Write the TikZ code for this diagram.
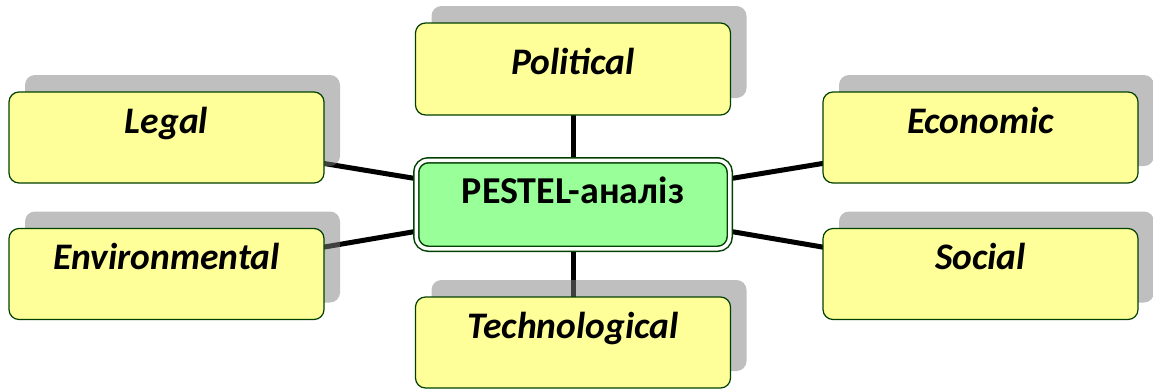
\documentclass[tikz,border=0pt]{standalone}
\usepackage{fontspec}
\setmainfont{Carlito}
\usetikzlibrary{positioning,shadows,backgrounds}
\definecolor{boxyellow}{RGB}{255,255,153}
\definecolor{boxgreen}{RGB}{153,255,153}
\definecolor{edgegreen}{RGB}{0,64,0}

\begin{document}
\begin{tikzpicture}[x=1pt,y=-1pt,
          factor/.style={draw=edgegreen,line width=1.2pt,rounded corners=10pt,fill=boxyellow,
                         minimum width=315pt,inner sep=0pt,outer sep=0pt,
                         text height=41pt,text depth=50pt,
                         font=\fontsize{37.5}{44}\selectfont\bfseries\itshape,
                         drop shadow={shadow xshift=16pt,shadow yshift=17pt}},
          hub/.style={draw=edgegreen,line width=1.5pt,double=white,double distance=3.5pt,
                      rounded corners=12pt,fill=boxgreen,minimum width=313.5pt,
                      inner sep=0pt,outer sep=0pt,text height=42.75pt,text depth=45.75pt,
                      font=\fontsize{38}{45}\selectfont\bfseries},
          link/.style={line width=5pt,black}]
        \useasboundingbox (0,0) rectangle (1153,389);
        \node[hub] (pest) at (573,204.5) {PESTEL-аналіз};
        \node[factor,text height=51pt,text depth=41pt] (pol) [above=45.25pt of pest] {Political};
        \node[factor] (tech) [below=48.25pt of pest] {Technological};
        \node[factor] (leg) [above left=21.5pt and 92.25pt of pest.west] {Legal};
        \node[factor] (env) [below left=24pt and 92.25pt of pest.west] {Environmental};
        \node[factor] (eco) [above right=21.5pt and 93.25pt of pest.east] {Economic};
        \node[factor] (soc) [below right=24pt and 93.25pt of pest.east] {Social};
        \begin{scope}[on background layer]
          \foreach \f in {pol,tech,leg,env,eco,soc}
            \draw[link] (pest.center) -- (\f.center);
        \end{scope}
      \end{tikzpicture}
\end{document}
